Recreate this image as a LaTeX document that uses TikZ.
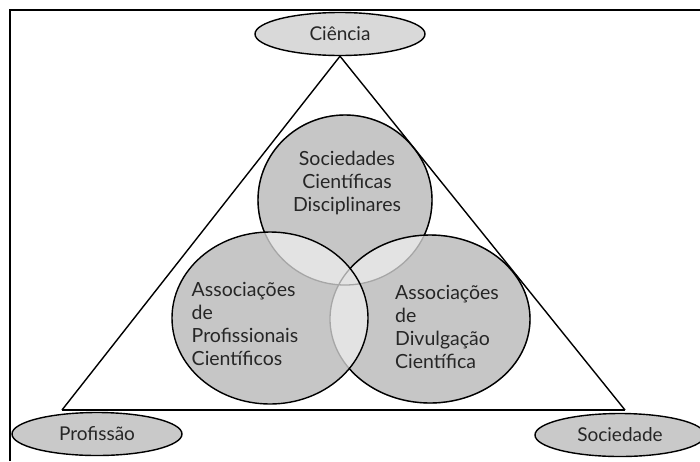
\documentclass[tikz,border=0pt]{standalone}
\usepackage{fontspec}
\setmainfont{Lato}
\usetikzlibrary{shapes.geometric}

\tikzset{
  polo/.style={ellipse, draw, line width=1.4pt, minimum width=170pt, minimum height=43pt,
    inner sep=0pt, text=black!85, font=\fontsize{19}{23}\selectfont},
  rotulo/.style={align=left, text=black!85, inner sep=0pt, font=\fontsize{19.5}{23}\selectfont},
  lado/.style={line width=1.4pt},
}

\begin{document}
\begin{tikzpicture}[x=1pt, y=-1pt]
  \useasboundingbox (0,0) rectangle (700,461);

  % ───────── Moldura (topo e esquerda) ─────────
  \draw[line width=2pt] (10,461) -- (10,10) -- (700,10);

  % ───────── Círculos: preenchimento ─────────
  \def\csup{(345,200) ellipse[x radius=87, y radius=85]}
  \def\cdir{(430,319) ellipse[x radius=100, y radius=84]}
  \def\cesq{(270,318) ellipse[x radius=98, y radius=86]}
  \fill[gray!45] \csup;
  \fill[gray!45] \cdir;
  \fill[gray!45] \cesq;

  % sobreposições (mais claras)
  \begin{scope}
    \clip \csup;
    \fill[gray!22] \cesq;
    \fill[gray!22] \cdir;
  \end{scope}
  \begin{scope}
    \clip \cesq;
    \fill[gray!22] \cdir;
  \end{scope}

  % ───────── Círculos: contornos ─────────
  % por baixo: contorno claro
  \draw[line width=1.3pt, gray!70] \csup;
  \draw[line width=1.3pt, gray!70] \cdir;
  % por cima: contorno escuro só fora dos círculos seguintes
  \begin{scope}[even odd rule]
    \clip (0,0) rectangle (700,461) \cesq;
    \begin{scope}
      \clip (0,0) rectangle (700,461) \cdir;
      \draw[line width=1.4pt] \csup;
    \end{scope}
    \draw[line width=1.4pt] \cdir;
  \end{scope}
  \draw[line width=1.4pt] \cesq;

  % ───────── Textos dos círculos ─────────
  \node[rotulo, align=center] (disciplinares) at (347,183) {Sociedades\\Científicas\\Disciplinares};
  \node[rotulo] (profissionais) at (245,324) {Associações\\de\\Profissionais\\Científicos};
  \node[rotulo] (divulgacao) at (447,327) {Associações\\de\\Divulgação\\Científica};

  % ───────── Polos ─────────
  \node[polo, fill=gray!30] (ciencia) at (340,34) {Ciência};
  \node[polo, fill=gray!42] (profissao) at (97,434) {Profissão};
  \node[polo, fill=gray!42] (sociedade) at (620,435) {Sociedade};

  % ───────── Triângulo ─────────
  \coordinate (vesq) at (62,410);
  \coordinate (vdir) at (625,410);
  \draw[lado] (ciencia.south) -- (vesq);
  \draw[lado] (ciencia.south) -- (vdir);
  \draw[line width=2pt] (vesq) -- (vdir);

\end{tikzpicture}
\end{document}
